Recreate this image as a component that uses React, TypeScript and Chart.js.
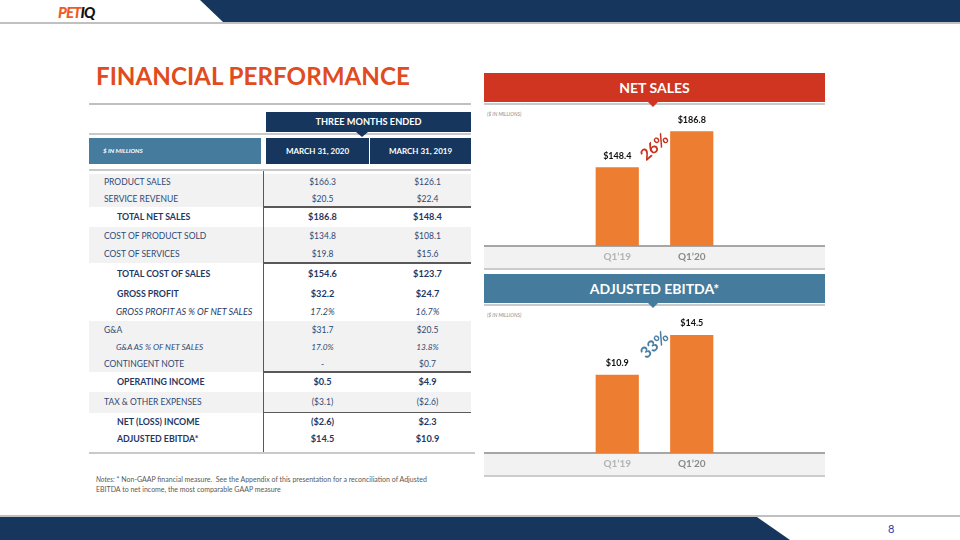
import React, { useEffect, useRef } from "react";
import { Chart, registerables } from "chart.js";

Chart.register(...registerables);

// ---------- DATA ----------
const chartCategories = ["Q1\u201919", "Q1\u201920"];
const netSalesValues = [148.4, 186.8];
const ebitdaValues = [10.9, 14.5];
const netSalesGrowth = "26%";
const ebitdaGrowth = "33%";

const tableHeaders = ["MARCH 31, 2020", "MARCH 31, 2019"];
const rowLabels = [
  "PRODUCT SALES",
  "SERVICE REVENUE",
  "TOTAL NET SALES",
  "COST OF PRODUCT SOLD",
  "COST OF SERVICES",
  "TOTAL COST OF SALES",
  "GROSS PROFIT",
  "GROSS PROFIT AS % OF NET SALES",
  "G&A",
  "G&A AS % OF NET SALES",
  "CONTINGENT NOTE",
  "OPERATING INCOME",
  "TAX & OTHER EXPENSES",
  "NET (LOSS) INCOME",
  "ADJUSTED EBITDA*",
];
const values2020 = ["$166.3", "$20.5", "$186.8", "$134.8", "$19.8", "$154.6", "$32.2", "17.2%", "$31.7", "17.0%", "-", "$0.5", "($3.1)", "($2.6)", "$14.5"];
const values2019 = ["$126.1", "$22.4", "$148.4", "$108.1", "$15.6", "$123.7", "$24.7", "16.7%", "$20.5", "13.8%", "$0.7", "$4.9", "($2.6)", "$2.3", "$10.9"];

// ---------- STYLE ----------
type RowKind = "reg" | "total" | "ital" | "subital";
const rowKinds: RowKind[] = ["reg", "reg", "total", "reg", "reg", "total", "total", "ital", "reg", "subital", "reg", "total", "reg", "total", "total"];
const rowShaded = [true, true, false, true, true, false, false, false, true, true, true, false, true, false, false];
const rowRuleBelow = [false, true, false, false, true, false, false, false, false, false, true, false, true, false, false];
const rowTops = [174, 190.5, 207, 227, 245, 263, 284, 303, 321, 339, 356, 372, 392, 412.7, 430];
const rowBottoms = [190.5, 207, 227, 245, 263, 284, 303, 321, 339, 356, 372, 392, 412.7, 430, 448];

const NAVY = "#17365D";
const STEEL = "#457B9D";
const RED = "#CF3520";
const ORANGE = "#ED7D31";
const FONT = "Lato, 'Open Sans', sans-serif";
const tickColors = ["#b3b3b3", "#8a8a8a"];
const BAND = 24;

type PanelProps = {
  left: number;
  top: number;
  width: number;
  height: number;
  values: number[];
  yMin: number;
  yMax: number;
  growth: string;
  growthColor: string;
  growthDy: number;
};

function BarPanel(p: PanelProps) {
  const ref = useRef<HTMLCanvasElement>(null);
  useEffect(() => {
    if (!ref.current) return;
    const decor = {
      id: "panelDecor",
      beforeDraw(chart: any) {
        const { ctx, chartArea } = chart;
        const w = chart.width;
        const h = chart.height;
        ctx.save();
        ctx.fillStyle = "#f2f2f2";
        ctx.fillRect(0, chartArea.bottom, w, h - chartArea.bottom);
        ctx.strokeStyle = "#a6a6a6";
        ctx.lineWidth = 2;
        ctx.beginPath();
        ctx.moveTo(0, chartArea.bottom);
        ctx.lineTo(w, chartArea.bottom);
        ctx.stroke();
        ctx.strokeStyle = "#bfbfbf";
        ctx.lineWidth = 1.5;
        ctx.beginPath();
        ctx.moveTo(0, h - 1);
        ctx.lineTo(w, h - 1);
        ctx.stroke();
        // category labels, placed by the category scale
        const xs = chart.scales.x;
        ctx.font = `bold 10px ${FONT}`;
        ctx.textAlign = "center";
        ctx.textBaseline = "middle";
        chartCategories.forEach((c, i) => {
          ctx.fillStyle = tickColors[i];
          ctx.fillText(c, xs.getPixelForValue(i), chartArea.bottom + 10.5);
        });
        ctx.restore();
      },
      afterDatasetsDraw(chart: any) {
        const { ctx } = chart;
        const meta = chart.getDatasetMeta(0);
        ctx.save();
        ctx.fillStyle = "#111111";
        ctx.font = `bold 9px ${FONT}`;
        ctx.textAlign = "center";
        ctx.textBaseline = "middle";
        meta.data.forEach((bar: any, i: number) => {
          ctx.fillText("$" + p.values[i].toFixed(1), bar.x, bar.y - 11.5);
        });
        const gx = (meta.data[0].x + meta.data[1].x) / 2;
        const gy = chart.chartArea.top + p.growthDy;
        ctx.translate(gx, gy);
        ctx.rotate((-42 * Math.PI) / 180);
        ctx.fillStyle = p.growthColor;
        ctx.font = `bold 16px ${FONT}`;
        ctx.fillText(p.growth, 0, 0);
        ctx.restore();
      },
    };
    const chart = new Chart(ref.current, {
      type: "bar",
      data: {
        labels: chartCategories,
        datasets: [
          {
            data: p.values,
            backgroundColor: ORANGE,
            borderWidth: 0,
            barPercentage: 0.58,
            categoryPercentage: 1,
          },
        ],
      },
      options: {
        animation: false,
        responsive: false,
        devicePixelRatio: 1,
        layout: { padding: { left: 96, right: 96, top: 0, bottom: BAND } },
        plugins: { legend: { display: false }, tooltip: { enabled: false } },
        scales: {
          x: { display: false },
          y: { display: false, min: p.yMin, max: p.yMax, beginAtZero: false },
        },
      },
      plugins: [decor],
    } as any);
    return () => chart.destroy();
  }, []);
  return (
    <canvas
      ref={ref}
      width={p.width}
      height={p.height}
      style={{ position: "absolute", left: p.left, top: p.top, width: p.width, height: p.height }}
    />
  );
}

function PanelHeader({ top, text, color }: { top: number; text: string; color: string }) {
  return (
    <>
      <div
        style={{
          position: "absolute",
          left: 484,
          top,
          width: 341,
          height: 29,
          background: color,
          color: "#fff",
          fontFamily: FONT,
          fontWeight: 700,
          fontSize: 14,
          lineHeight: "29px",
          textAlign: "center",
        }}
      >
        {text}
      </div>
      <div style={{ position: "absolute", left: 484, top: top + 30, width: 341, height: 2, background: "#c9c9c9" }} />
      <div
        style={{
          position: "absolute",
          left: 648,
          top: top + 29,
          width: 0,
          height: 0,
          borderLeft: "5px solid transparent",
          borderRight: "5px solid transparent",
          borderTop: `5px solid ${color}`,
        }}
      />
      <div
        style={{
          position: "absolute",
          left: 487,
          top: top + 38,
          fontFamily: FONT,
          fontStyle: "italic",
          fontSize: 5,
          color: "#8c8c8c",
          whiteSpace: "nowrap",
        }}
      >
        ($ IN MILLIONS)
      </div>
    </>
  );
}

export default function App() {
  useEffect(() => {
    document.body.style.margin = "0";
  }, []);

  const labelStyle = (k: RowKind): React.CSSProperties => {
    if (k === "total") return { left: 28, fontWeight: 700, fontSize: 8.8, color: "#1F3864" };
    if (k === "ital") return { left: 27, fontStyle: "italic", fontSize: 9, color: "#1F3864" };
    if (k === "subital") return { left: 27, fontStyle: "italic", fontSize: 8.2, color: "#2E4A72" };
    return { left: 15, fontSize: 8.5, color: "#2E4A72" };
  };
  const valueStyle = (k: RowKind): React.CSSProperties => {
    if (k === "total") return { fontWeight: 700, fontSize: 9.2, color: "#1F3864" };
    if (k === "ital" || k === "subital") return { fontStyle: "italic", fontSize: k === "ital" ? 9 : 8.3, color: "#2E4A72" };
    return { fontSize: 8.5, color: "#2E4A72" };
  };

  return (
    <div
      style={{
        position: "fixed",
        left: 0,
        top: 0,
        width: 960,
        height: 540,
        overflow: "hidden",
        background: "#fff",
        fontFamily: FONT,
      }}
    >
      {/* top band */}
      <div
        style={{
          position: "absolute",
          left: 0,
          top: 0,
          width: 960,
          height: 22,
          background: NAVY,
          clipPath: "polygon(200px 0, 960px 0, 960px 22px, 223px 22px)",
        }}
      />
      <div style={{ position: "absolute", left: 0, top: 22, width: 960, height: 2, background: "#c0c0c0" }} />
      <div
        style={{
          position: "absolute",
          left: 58,
          top: 2,
          fontFamily: FONT,
          fontWeight: 900,
          fontStyle: "italic",
          fontSize: 15,
          letterSpacing: -0.9,
          lineHeight: "20px",
          whiteSpace: "nowrap",
        }}
      >
        <span style={{ color: "#F15A22" }}>PET</span>
        <span style={{ color: "#111" }}>IQ</span>
      </div>

      {/* footer */}
      <div style={{ position: "absolute", left: 0, top: 515, width: 960, height: 2, background: "#c0c0c0" }} />
      <div
        style={{
          position: "absolute",
          left: 0,
          top: 517,
          width: 800,
          height: 23,
          background: NAVY,
          clipPath: "polygon(0 0, 757px 0, 790px 23px, 0 23px)",
        }}
      />
      <div style={{ position: "absolute", left: 888, top: 522, fontSize: 11, color: "#2B3A9E", fontFamily: FONT }}>8</div>

      {/* title */}
      <div
        style={{
          position: "absolute",
          left: 96,
          top: 61,
          fontWeight: 700,
          fontSize: 24.2,
          color: "#E04B20",
          whiteSpace: "nowrap",
          lineHeight: "30px",
        }}
      >
        FINANCIAL PERFORMANCE
      </div>
      <div style={{ position: "absolute", left: 89, top: 103, width: 382, height: 2, background: "#c0c0c0" }} />

      {/* table header */}
      <div
        style={{
          position: "absolute",
          left: 266,
          top: 112,
          width: 205,
          height: 20,
          background: NAVY,
          color: "#fff",
          fontWeight: 700,
          fontSize: 9.2,
          lineHeight: "20px",
          textAlign: "center",
        }}
      >
        THREE MONTHS ENDED
      </div>
      <div style={{ position: "absolute", left: 89, top: 133, width: 382, height: 2, background: "#c9c9c9" }} />
      <div
        style={{
          position: "absolute",
          left: 356,
          top: 132,
          width: 0,
          height: 0,
          borderLeft: "6px solid transparent",
          borderRight: "6px solid transparent",
          borderTop: `5px solid ${NAVY}`,
        }}
      />
      <div
        style={{
          position: "absolute",
          left: 89,
          top: 138,
          width: 172,
          height: 26,
          background: STEEL,
          color: "#fff",
          fontWeight: 700,
          fontStyle: "italic",
          fontSize: 6.2,
          lineHeight: "26px",
          paddingLeft: 14,
          boxSizing: "border-box",
        }}
      >
        $ IN MILLIONS
      </div>
      {tableHeaders.map((h, i) => (
        <div
          key={h}
          style={{
            position: "absolute",
            left: i === 0 ? 266 : 370,
            top: 138,
            width: i === 0 ? 103 : 101,
            height: 26,
            background: NAVY,
            color: "#fff",
            fontWeight: 700,
            fontSize: 8,
            lineHeight: "26px",
            textAlign: "center",
          }}
        >
          {h}
        </div>
      ))}
      <div style={{ position: "absolute", left: 89, top: 169, width: 382, height: 2, background: "#c9c9c9" }} />

      {/* rows */}
      {rowLabels.map((lab, i) => {
        const k = rowKinds[i];
        const top = rowTops[i];
        const h = rowBottoms[i] - rowTops[i];
        return (
          <div key={lab} style={{ position: "absolute", left: 89, top, width: 382, height: h, background: rowShaded[i] ? "#f2f2f2" : "transparent" }}>
            <div style={{ position: "absolute", top: 0, height: h, lineHeight: h + "px", whiteSpace: "nowrap", ...labelStyle(k) }}>{lab}</div>
            <div style={{ position: "absolute", left: 183, width: 101, textAlign: "center", top: 0, height: h, lineHeight: h + "px", ...valueStyle(k) }}>{values2020[i]}</div>
            <div style={{ position: "absolute", left: 288, width: 101, textAlign: "center", top: 0, height: h, lineHeight: h + "px", ...valueStyle(k) }}>{values2019[i]}</div>
            {rowRuleBelow[i] && (
              <div style={{ position: "absolute", left: 174, top: h - 1, width: 208, height: 1.5, background: "#595959" }} />
            )}
          </div>
        );
      })}
      <div style={{ position: "absolute", left: 262.5, top: 171, width: 1.5, height: 281, background: "#595959" }} />
      <div style={{ position: "absolute", left: 89, top: 451.5, width: 386, height: 2, background: "#c9c9c9" }} />

      {/* notes */}
      <div
        style={{
          position: "absolute",
          left: 96,
          top: 474,
          width: 345,
          fontSize: 7,
          lineHeight: "10px",
          color: "#595959",
        }}
      >
        <i>Notes:</i> * Non-GAAP financial measure.&nbsp; See the Appendix of this presentation for a reconciliation of Adjusted EBITDA to net income, the most comparable GAAP measure
      </div>

      {/* charts */}
      <PanelHeader top={73} text="NET SALES" color={RED} />
      <BarPanel
        left={484}
        top={106}
        width={341}
        height={164}
        values={netSalesValues}
        yMin={64.2}
        yMax={213.7}
        growth={netSalesGrowth}
        growthColor="#C8321E"
        growthDy={41}
      />
      <PanelHeader top={274} text="ADJUSTED EBITDA*" color={STEEL} />
      <BarPanel
        left={484}
        top={307}
        width={341}
        height={170}
        values={ebitdaValues}
        yMin={3.8}
        yMax={17.04}
        growth={ebitdaGrowth}
        growthColor="#4A7EA3"
        growthDy={38}
      />
    </div>
  );
}
